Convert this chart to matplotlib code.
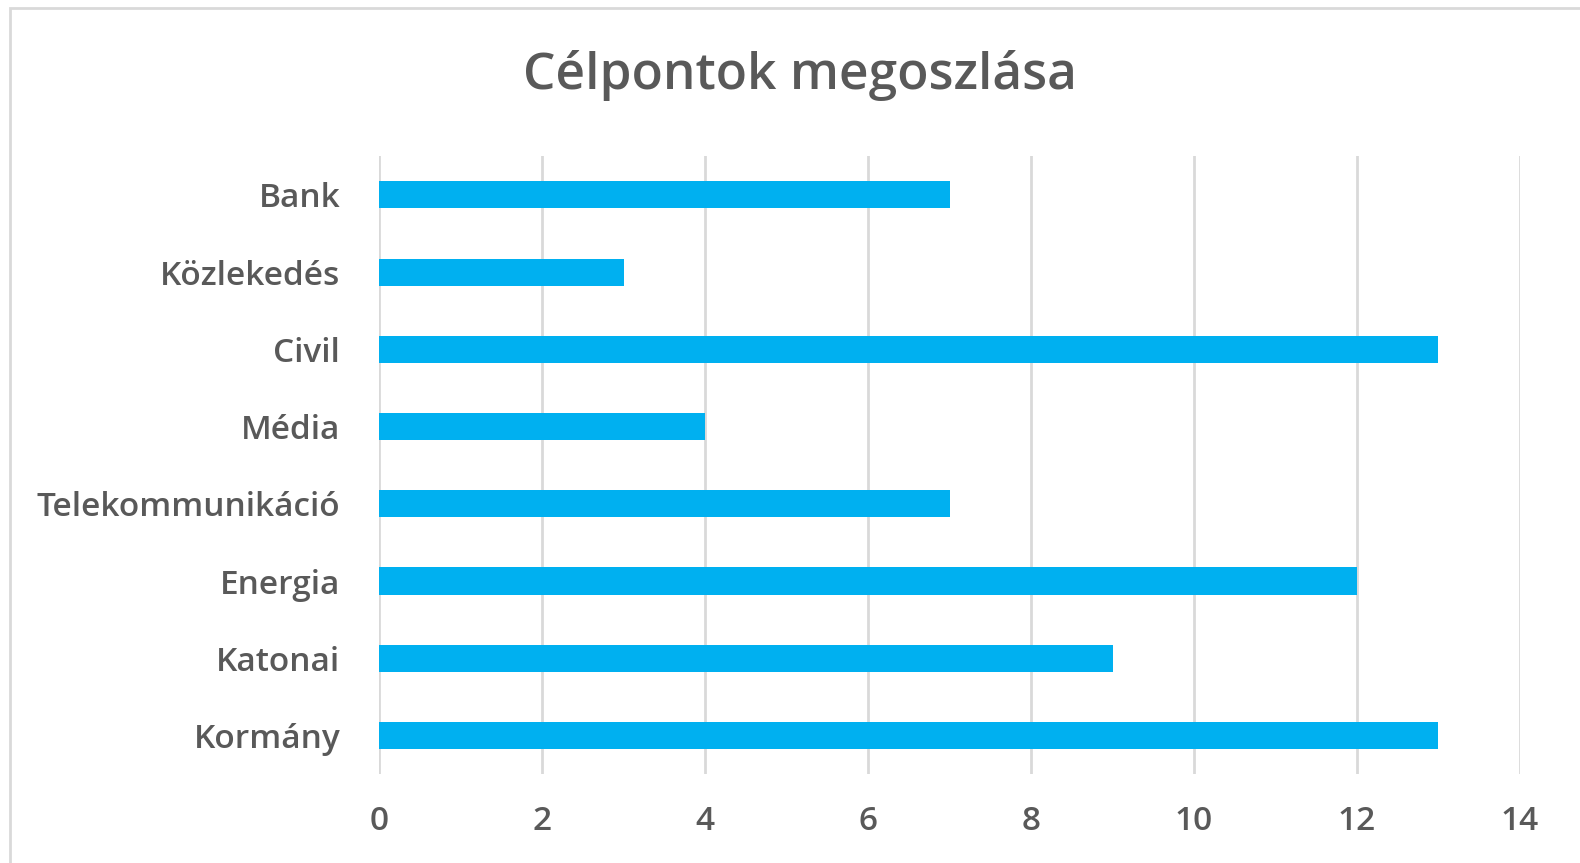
import matplotlib
matplotlib.use("Agg")
import matplotlib.pyplot as plt
from matplotlib.patches import Rectangle

categories = ["Kormány", "Katonai", "Energia", "Telekommunikáció",
              "Média", "Civil", "Közlekedés", "Bank"]
values = [13, 9, 12, 7, 4, 13, 3, 7]
xticks = [0, 2, 4, 6, 8, 10, 12, 14]

plt.rcParams['font.family'] = ['Open Sans', 'DejaVu Sans']
text_color = '#595959'
grid_color = '#D9D9D9'

fig = plt.figure(figsize=(15.8, 8.63), dpi=100)
ax = fig.add_axes([0.240, 0.103, 0.722, 0.716])

ax.barh(range(len(categories)), values, height=0.35, color='#00B0F0', zorder=3)
ax.set_yticks(range(len(categories)))
ax.set_yticklabels(categories)
ax.set_ylim(-0.5, len(categories) - 0.5)
ax.set_xlim(0, 14)
ax.set_xticks(xticks)

ax.grid(axis='x', color=grid_color, linewidth=2, zorder=0)
for s in ax.spines.values():
    s.set_visible(False)
ax.tick_params(axis='both', length=0, labelsize=24, colors=text_color)
for lbl in ax.get_xticklabels() + ax.get_yticklabels():
    lbl.set_fontweight('semibold')
for lbl in ax.get_yticklabels():
    lbl.set_y(lbl.get_position()[1])
ax.tick_params(axis='y', pad=28)
ax.tick_params(axis='x', pad=22)

fig.text(0.506, 0.912, "Célpontok megoszlása", ha='center', va='center',
         fontsize=37, color=text_color, fontweight='semibold')

# chart frame
fig.patches.append(Rectangle((10 / 1580, -0.05), 1.2, 1 - 8 / 863 + 0.05,
                             transform=fig.transFigure, fill=False,
                             edgecolor=grid_color, linewidth=2))

fig.savefig("out.png", dpi=100)
